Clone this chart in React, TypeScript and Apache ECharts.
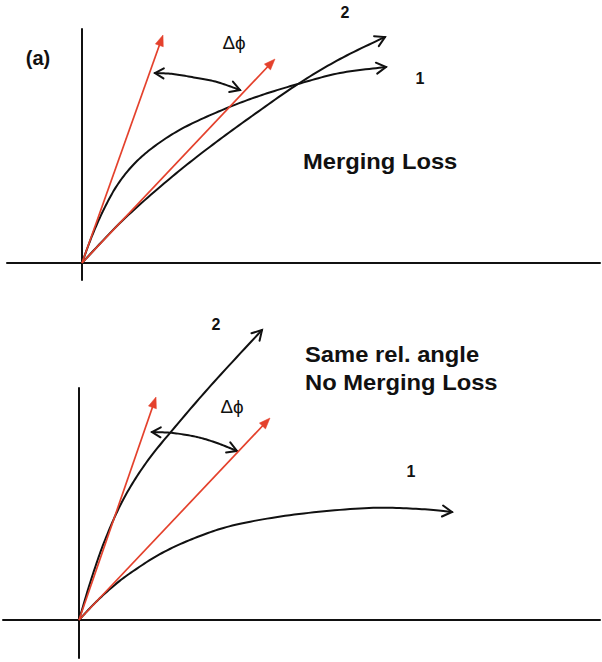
import React, { useEffect, useRef } from "react";
import * as echarts from "echarts";

// ---- Panel (a), top: values measured from the crossing of the two axes ----
const topCurve1 = [[0, 0], [10, 27], [22, 54], [36, 79], [54, 101], [77, 120], [105, 137], [145, 155], [180, 168], [216, 179], [258, 190], [304, 196]];
const topCurve2 = [[0, 0], [40, 42], [85, 82], [125, 114], [170, 147], [216, 179], [258, 204], [303, 226]];
const topRed1 = [[0, 0], [81, 228]];
const topRed2 = [[0, 0], [193, 204]];
const topDelta = [[73, 190], [91, 189], [115, 185], [135, 181], [158, 173]];
const topLabels = [
  { text: "(a)", at: [-44, 205], kind: "tag" },
  { text: "Δϕ", at: [152, 220], kind: "greek" },
  { text: "2", at: [263, 251], kind: "num" },
  { text: "1", at: [338, 185], kind: "num" },
  { text: "Merging Loss", at: [221, 102], kind: "title" },
];

// ---- Bottom panel ----
const botCurve1 = [[0, 0], [15, 16], [31, 31], [50, 46], [83, 67], [121, 84], [160, 96], [220, 106], [290, 112], [340, 111], [373, 108]];
const botCurve2 = [[0, 0], [12, 40], [26, 80], [44, 120], [67, 157], [96, 193], [135, 238], [183, 290]];
const botRed1 = [[0, 0], [77, 223]];
const botRed2 = [[0, 0], [191, 202]];
const botDelta = [[73, 188], [94, 187], [118, 183], [138, 177], [158, 169]];
const botLabels = [
  { text: "2", at: [137, 296], kind: "num" },
  { text: "Δϕ", at: [153, 213], kind: "greek" },
  { text: "1", at: [332, 149], kind: "num" },
  { text: "Same rel. angle", at: [226, 266], kind: "title" },
  { text: "No Merging Loss", at: [226, 238], kind: "title" },
];

const BLACK = "#111111";
const RED = "#e4412c";
const FONT = "'Liberation Sans', Arial, Helvetica, sans-serif";
const GREEK_FONT = "'Liberation Sans', 'DejaVu Sans', sans-serif";

function spline(pts: number[][], seg = 14): number[][] {
  if (pts.length < 3) return pts.slice();
  const out: number[][] = [];
  for (let i = 0; i < pts.length - 1; i++) {
    const p0 = pts[i - 1] || pts[i];
    const p1 = pts[i];
    const p2 = pts[i + 1];
    const p3 = pts[i + 2] || pts[i + 1];
    for (let t = 0; t < seg; t++) {
      const s = t / seg, s2 = s * s, s3 = s2 * s;
      const f = (k: number) =>
        0.5 * (2 * p1[k] + (-p0[k] + p2[k]) * s + (2 * p0[k] - 5 * p1[k] + 4 * p2[k] - p3[k]) * s2 + (-p0[k] + 3 * p1[k] - 3 * p2[k] + p3[k]) * s3);
      out.push([f(0), f(1)]);
    }
  }
  out.push(pts[pts.length - 1]);
  return out;
}

function dir(from: number[], to: number[]) {
  const dx = to[0] - from[0], dy = to[1] - from[1];
  const l = Math.hypot(dx, dy) || 1;
  return [dx / l, dy / l];
}

function chevron(tip: number[], d: number[], len: number, ang: number) {
  const c = Math.cos(ang), s = Math.sin(ang);
  const a = [d[0] * c - d[1] * s, d[0] * s + d[1] * c];
  const b = [d[0] * c + d[1] * s, -d[0] * s + d[1] * c];
  return [[tip[0] - a[0] * len, tip[1] - a[1] * len], tip, [tip[0] - b[0] * len, tip[1] - b[1] * len]];
}

type Shape = { kind: string; pts: number[][] };

function makeShapeSeries(shapes: Shape[], axisIndex: number) {
  return {
    type: "custom",
    xAxisIndex: axisIndex,
    yAxisIndex: axisIndex,
    clip: false,
    silent: true,
    data: shapes.map((s) => s.pts[s.pts.length - 1]),
    encode: { x: 0, y: 1 },
    renderItem: (params: any, api: any) => {
      const s = shapes[params.dataIndex];
      const px = s.pts.map((p) => api.coord(p));
      const children: any[] = [];
      if (s.kind === "red") {
        const tip = px[px.length - 1];
        const d = dir(px[0], tip);
        const L = 11, W = 4.2;
        const base = [tip[0] - d[0] * L, tip[1] - d[1] * L];
        const n = [-d[1], d[0]];
        children.push({
          type: "line",
          shape: { x1: px[0][0], y1: px[0][1], x2: base[0] + d[0] * 2, y2: base[1] + d[1] * 2 },
          style: { stroke: RED, lineWidth: 1.7 },
        });
        children.push({
          type: "polygon",
          shape: { points: [tip, [base[0] + n[0] * W, base[1] + n[1] * W], [base[0] - n[0] * W, base[1] - n[1] * W]] },
          style: { fill: RED, stroke: RED, lineWidth: 0.5 },
        });
      } else {
        const curve = spline(px);
        const m = curve.length;
        children.push({
          type: "polyline",
          shape: { points: curve },
          style: { stroke: BLACK, lineWidth: 2, fill: "none", lineJoin: "round", lineCap: "round" },
        });
        const endDir = dir(curve[m - 3], curve[m - 1]);
        children.push({
          type: "polyline",
          shape: { points: chevron(curve[m - 1], endDir, 11, Math.PI / 6) },
          style: { stroke: BLACK, lineWidth: 2, fill: "none", lineJoin: "miter", lineCap: "round" },
        });
        if (s.kind === "double") {
          const startDir = dir(curve[2], curve[0]);
          children.push({
            type: "polyline",
            shape: { points: chevron(curve[0], startDir, 10, Math.PI / 6) },
            style: { stroke: BLACK, lineWidth: 2, fill: "none", lineJoin: "miter", lineCap: "round" },
          });
        }
      }
      return { type: "group", children };
    },
  };
}

const labelStyles: Record<string, any> = {
  tag: { fontSize: 20, fontWeight: "bold", align: "center", scaleX: 1, font: FONT },
  greek: { fontSize: 18, fontWeight: "normal", align: "center", scaleX: 1.05, font: GREEK_FONT },
  num: { fontSize: 16, fontWeight: "bold", align: "center", scaleX: 1, font: FONT },
  title: { fontSize: 22, fontWeight: "bold", align: "left", scaleX: 1.08, font: FONT },
};

function makeLabelSeries(labels: { text: string; at: number[]; kind: string }[], axisIndex: number) {
  return {
    type: "custom",
    xAxisIndex: axisIndex,
    yAxisIndex: axisIndex,
    clip: false,
    silent: true,
    data: labels.map((l) => l.at),
    encode: { x: 0, y: 1 },
    renderItem: (params: any, api: any) => {
      const l = labels[params.dataIndex];
      const st = labelStyles[l.kind];
      const p = api.coord(l.at);
      return {
        type: "text",
        x: p[0],
        y: p[1],
        scaleX: st.scaleX,
        style: {
          text: l.text,
          fill: BLACK,
          fontSize: st.fontSize,
          fontWeight: st.fontWeight,
          fontFamily: st.font,
          align: st.align,
          verticalAlign: "middle",
        },
      };
    },
  };
}

const axisCommon = {
  type: "value",
  axisLine: { show: true, onZero: true, lineStyle: { color: BLACK, width: 2 } },
  axisTick: { show: false },
  axisLabel: { show: false },
  splitLine: { show: false },
};

export default function App() {
  const ref = useRef<HTMLDivElement>(null);
  useEffect(() => {
    if (!ref.current) return;
    const chart = echarts.init(ref.current, undefined, { renderer: "svg" });
    const topShapes: Shape[] = [
      { kind: "curve", pts: topCurve1 },
      { kind: "curve", pts: topCurve2 },
      { kind: "double", pts: topDelta },
      { kind: "red", pts: topRed1 },
      { kind: "red", pts: topRed2 },
    ];
    const botShapes: Shape[] = [
      { kind: "curve", pts: botCurve1 },
      { kind: "curve", pts: botCurve2 },
      { kind: "double", pts: botDelta },
      { kind: "red", pts: botRed1 },
      { kind: "red", pts: botRed2 },
    ];
    chart.setOption({
      animation: false,
      backgroundColor: "#ffffff",
      grid: [
        { left: 7, right: 2, top: 29, bottom: 382 },
        { left: 3, right: 2, top: 388, bottom: 4 },
      ],
      xAxis: [
        { ...axisCommon, gridIndex: 0, min: -75, max: 518 },
        { ...axisCommon, gridIndex: 1, min: -76, max: 521 },
      ],
      yAxis: [
        { ...axisCommon, gridIndex: 0, min: -17, max: 234 },
        { ...axisCommon, gridIndex: 1, min: -38, max: 232 },
      ],
      series: [
        makeShapeSeries(topShapes, 0),
        makeLabelSeries(topLabels, 0),
        makeShapeSeries(botShapes, 1),
        makeLabelSeries(botLabels, 1),
      ],
    });
    return () => chart.dispose();
  }, []);
  return <div ref={ref} style={{ position: "fixed", left: 0, top: 0, width: 602, height: 662, background: "#fff" }} />;
}
